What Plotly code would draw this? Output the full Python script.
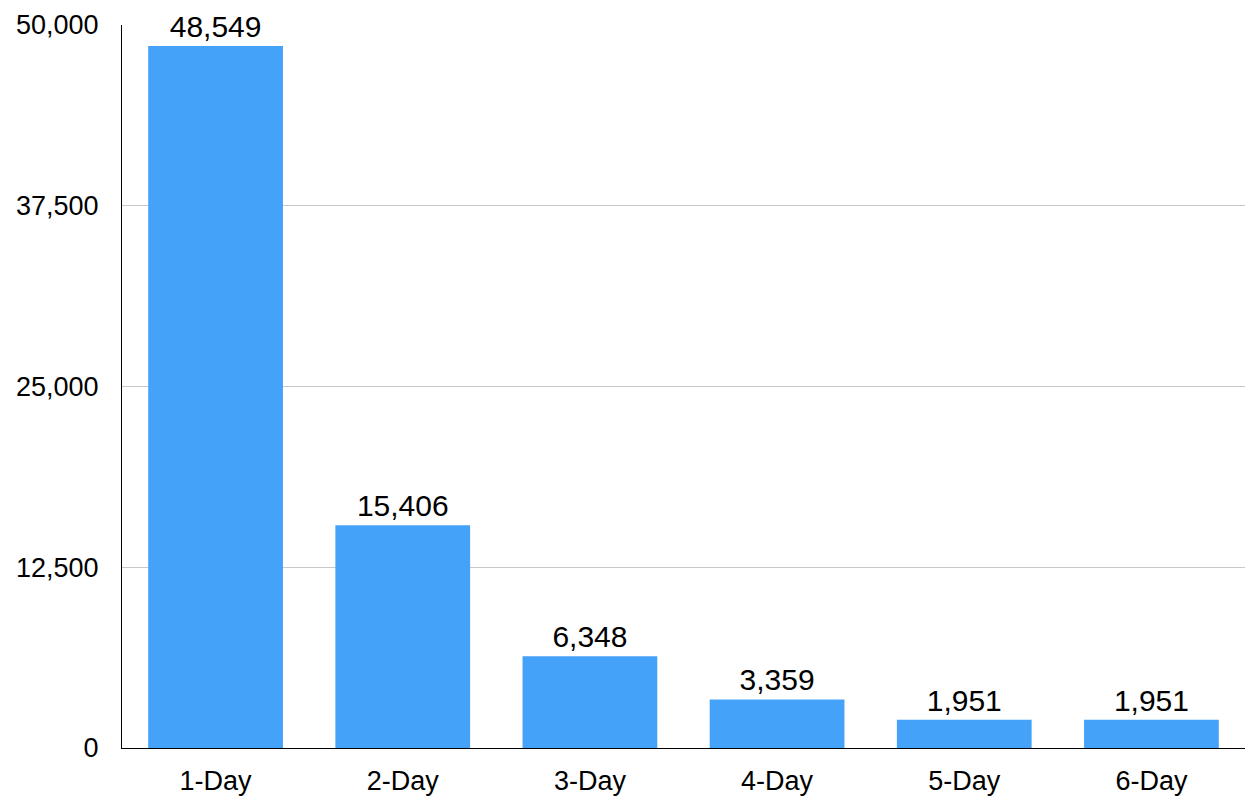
import plotly.graph_objects as go

categories = ["1-Day", "2-Day", "3-Day", "4-Day", "5-Day", "6-Day"]
values = [48549, 15406, 6348, 3359, 1951, 1951]
tick_values = [0, 12500, 25000, 37500, 50000]
tick_labels = ["0", "12,500", "25,000", "37,500", "50,000"]

font_family = "Liberation Sans, Arial, Helvetica, sans-serif"

fig = go.Figure(
    go.Bar(
        x=categories,
        y=values,
        marker=dict(color="#44A2F9", line=dict(width=0)),
        text=[f"{v:,}" for v in values],
        textposition="outside",
        textfont=dict(size=30, color="black", family=font_family),
        cliponaxis=False,
        constraintext="none",
    )
)

fig.update_layout(
    width=1248,
    height=800,
    margin=dict(l=122, r=3, t=25, b=52, autoexpand=False),
    paper_bgcolor="white",
    plot_bgcolor="white",
    bargap=0.28,
    showlegend=False,
    font=dict(family=font_family, color="black"),
    xaxis=dict(
        showline=True,
        linecolor="black",
        linewidth=1,
        showgrid=False,
        ticks="",
        tickfont=dict(size=27),
        ticklabelstandoff=9,
        automargin=False,
    ),
    yaxis=dict(
        range=[0, 50000],
        tickvals=tick_values,
        ticktext=tick_labels,
        showline=True,
        linecolor="black",
        linewidth=1,
        showgrid=True,
        gridcolor="#C8C8C8",
        gridwidth=1,
        zeroline=False,
        ticks="",
        tickfont=dict(size=27),
        ticklabelstandoff=17,
        automargin=False,
    ),
)

fig.write_html("out.html")
